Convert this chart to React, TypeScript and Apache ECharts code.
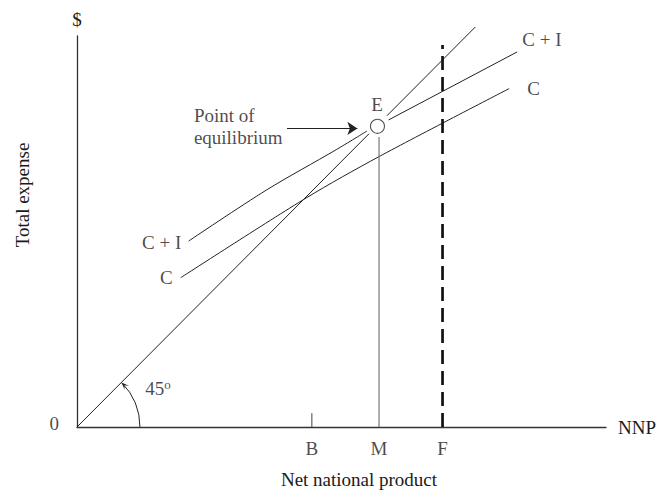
import React, { useEffect, useRef } from "react";
import * as echarts from "echarts";

// Diagram coordinates (x: net national product, y: total expense), equal units on both axes
const xMax = 100;
const yMax = 73.6;

const fortyFiveLower = [[0, 0], [55.2, 55.2]];
const fortyFiveUpper = [[58.6, 58.6], [75.3, 75.3]];
const ciLower = [[21.1, 35.0], [35.8, 44.6], [49.0, 52.2], [54.8, 55.7]];
const ciUpper = [[58.9, 57.8], [83.2, 70.6]];
const cLine = [[19.6, 28.1], [43.3, 43.1], [57.1, 50.9], [81.7, 63.7]];
const equilibrium = [56.8, 56.6];
const mLine = [[57.1, 0], [57.1, 54.6]];
const fLine = [[69.1, 0], [69.1, 71.9]];
const bTick = [[44.4, 0], [44.4, 2.6]];
const arrowStart = [39.7, 56.2];
const arrowEnd = [53.0, 56.2];
const arcRadius = 11.9;

const pointLabels = [
  { name: "E", value: [56.7, 60.8] },
  { name: "C + I", value: [87.9, 72.9] },
  { name: "C", value: [86.3, 63.8] },
  { name: "C + I", value: [16.0, 34.8] },
  { name: "C", value: [16.9, 28.1] },
  { name: "B", value: [44.4, -4.0] },
  { name: "M", value: [57.1, -4.0] },
  { name: "F", value: [69.1, -4.0] },
  { name: "0", value: [-4.3, 0.75] },
];
const noteLabel = { name: "Point of\nequilibrium", value: [22.0, 56.5] };
const angleLabel = { name: "45", value: [15.3, 7.3] };

const FONT = "'Liberation Serif', 'Times New Roman', serif";
const INK = "#1a1a1a";
const FS = 19;

export default function App() {
  const ref = useRef<HTMLDivElement>(null);
  useEffect(() => {
    if (!ref.current) return;
    const chart = echarts.init(ref.current, undefined, { renderer: "svg" });
    const lineBase = {
      type: "line",
      showSymbol: false,
      symbol: "none",
      silent: true,
      clip: false,
      lineStyle: { color: "#222", width: 1 },
    };
    chart.setOption({
      animation: false,
      backgroundColor: "#fff",
      textStyle: { fontFamily: FONT },
      grid: { left: 77, right: 51, top: 36, bottom: 66 },
      xAxis: {
        type: "value",
        min: 0,
        max: xMax,
        name: "NNP",
        nameLocation: "end",
        nameGap: 12,
        nameTextStyle: { fontFamily: FONT, fontSize: FS, color: INK },
        axisLine: { show: true, lineStyle: { color: "#333", width: 1.3 } },
        axisTick: { show: false },
        axisLabel: { show: false },
        splitLine: { show: false },
      },
      yAxis: {
        type: "value",
        min: 0,
        max: yMax,
        name: "$",
        nameLocation: "end",
        nameGap: 7,
        nameTextStyle: { fontFamily: FONT, fontSize: FS, color: INK, align: "center" },
        axisLine: { show: true, lineStyle: { color: "#333", width: 1.3 } },
        axisTick: { show: false },
        axisLabel: { show: false },
        splitLine: { show: false },
      },
      graphic: [
        {
          type: "text",
          x: 22,
          y: 195,
          rotation: Math.PI / 2,
          style: {
            text: "Total expense",
            font: `${FS}px ${FONT}`,
            fill: INK,
            align: "center",
            verticalAlign: "middle",
          },
        },
        {
          type: "text",
          x: 359,
          y: 479,
          style: {
            text: "Net national product",
            font: `${FS}px ${FONT}`,
            fill: INK,
            align: "center",
            verticalAlign: "middle",
          },
        },
      ],
      series: [
        { ...lineBase, name: "45 lower", data: fortyFiveLower },
        { ...lineBase, name: "45 upper", data: fortyFiveUpper },
        { ...lineBase, name: "C+I lower", data: ciLower, smooth: 0.3 },
        { ...lineBase, name: "C+I upper", data: ciUpper },
        { ...lineBase, name: "C", data: cLine, smooth: 0.3 },
        { ...lineBase, name: "B tick", data: bTick, lineStyle: { color: "#444", width: 1 } },
        {
          ...lineBase,
          name: "M",
          data: mLine,
          lineStyle: { color: "#777", width: 1.2 },
          markLine: {
            silent: true,
            symbol: ["none", "arrow"],
            symbolSize: 10,
            label: { show: false },
            lineStyle: { color: "#222", width: 1, type: "solid" },
            data: [[{ coord: arrowStart }, { coord: arrowEnd }]],
          },
        },
        {
          ...lineBase,
          name: "F",
          data: fLine,
          lineStyle: { color: "#111", width: 2.7, type: [14, 7] },
        },
        {
          type: "scatter",
          name: "E",
          silent: true,
          data: [equilibrium],
          symbol: "circle",
          symbolSize: 14,
          itemStyle: { color: "#fff", borderColor: "#222", borderWidth: 1.1 },
          z: 5,
        },
        {
          type: "custom",
          name: "angle",
          silent: true,
          clip: false,
          data: [[0, 0]],
          renderItem: (_params: any, api: any) => {
            const o = api.coord([0, 0]);
            const r = api.size([arcRadius, 0])[0];
            const a = Math.PI / 4;
            const px = o[0] + r * Math.cos(a);
            const py = o[1] - r * Math.sin(a);
            const L = 8;
            const spread = 0.38;
            const back = Math.PI / 4;
            const p1 = [px + L * Math.cos(back + spread), py + L * Math.sin(back + spread)];
            const p2 = [px + L * Math.cos(back - spread), py + L * Math.sin(back - spread)];
            return {
              type: "group",
              children: [
                {
                  type: "arc",
                  shape: { cx: o[0], cy: o[1], r, startAngle: -a, endAngle: 0, clockwise: true },
                  style: { stroke: "#222", fill: "none", lineWidth: 1 },
                },
                {
                  type: "polygon",
                  shape: { points: [[px, py], p1, [px + 4 * Math.cos(back), py + 4 * Math.sin(back)], p2] },
                  style: { fill: "#222" },
                },
              ],
            };
          },
        },
        {
          type: "scatter",
          name: "labels",
          silent: true,
          clip: false,
          symbolSize: 1,
          itemStyle: { color: "transparent" },
          data: pointLabels,
          label: {
            show: true,
            position: "inside",
            formatter: "{b}",
            fontFamily: FONT,
            fontSize: FS,
            color: INK,
          },
        },
        {
          type: "scatter",
          name: "note",
          silent: true,
          clip: false,
          symbolSize: 1,
          itemStyle: { color: "transparent" },
          data: [noteLabel],
          label: {
            show: true,
            position: "right",
            distance: 0,
            align: "left",
            formatter: "{b}",
            fontFamily: FONT,
            fontSize: FS,
            lineHeight: 22,
            color: INK,
          },
        },
        {
          type: "scatter",
          name: "angleLabel",
          silent: true,
          clip: false,
          symbolSize: 1,
          itemStyle: { color: "transparent" },
          data: [angleLabel],
          label: {
            show: true,
            position: "inside",
            formatter: "{a|{b}}{s|o}",
            rich: {
              a: { fontFamily: FONT, fontSize: FS, color: INK },
              s: { fontFamily: FONT, fontSize: 13, color: INK, verticalAlign: "top", padding: [0, 0, 8, 0] },
            },
          },
        },
      ],
    });
    return () => chart.dispose();
  }, []);
  return (
    <div
      ref={ref}
      style={{ position: "fixed", left: 0, top: 0, width: 659, height: 493 }}
    />
  );
}
